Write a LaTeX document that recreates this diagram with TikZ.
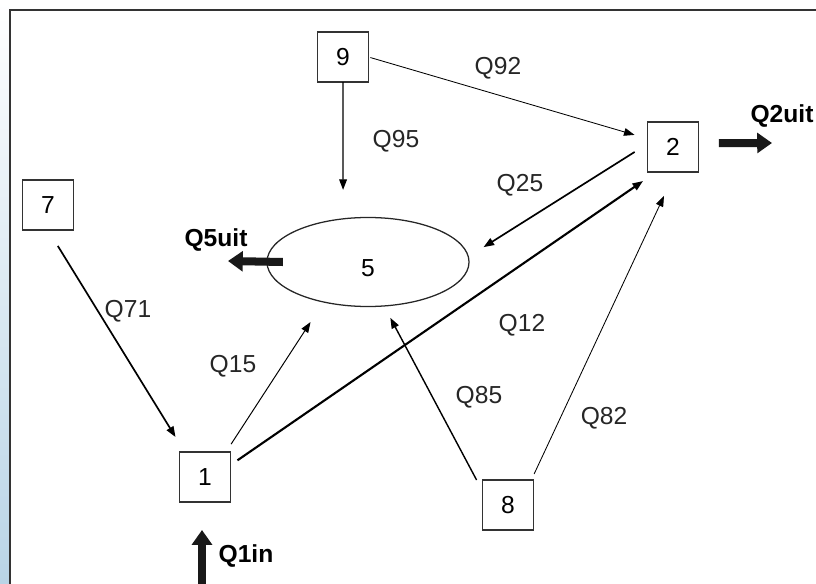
\documentclass[tikz,border=0pt]{standalone}
\usepackage{fontspec}
\setmainfont{Liberation Sans}
\usetikzlibrary{shapes.geometric,arrows.meta}
\definecolor{skyblue}{RGB}{185,212,230}

\begin{document}
\begin{tikzpicture}[x=0.025cm,y=-0.025cm,inner sep=0pt,outer sep=0pt,
font=\fontsize{17.5}{21}\selectfont,
tank/.style={draw=black!80,rectangle,line width=0.9pt,minimum width=1.275cm,minimum height=1.25cm},
pond/.style={draw=black!85,ellipse,line width=0.9pt,minimum width=5.05cm,minimum height=2.225cm},
flow/.style={-{Triangle[length=7.5pt,width=5.5pt]},black},
bigflow/.style={-{Triangle[length=10.5pt,width=14pt]},line width=5.7pt,black!90},
lbl/.style={anchor=center,text=black!85},
blbl/.style={anchor=center,font=\fontsize{17.5}{21}\selectfont\bfseries}]

\useasboundingbox (0,0) rectangle (816,584);

% left strip and frame
\shade[top color=white,bottom color=skyblue,middle color=skyblue!50] (0,0) rectangle (9,584);
\draw[line width=1.5pt,black!80] (10,584) -- (10,10) -- (816,10);

\draw (343,57) node[tank] (n9) {9};
\draw (673,147) node[tank] (n2) {2};
\draw (48,205) node[tank] (n7) {7};
\draw (205,477) node[tank] (n1) {1};
\draw (508,505) node[tank] (n8) {8};
\draw (368,262) node[pond] (n5) {};
\draw (368,268) node (n5lbl) {5};

\draw[flow,line width=0.6pt,shorten <=1.4pt,shorten >=9.6pt] (n9.east) -- (n2.162);
\draw[flow,line width=0.9pt,shorten >=20.6pt] (n9.south) -- (n5.120);
\draw[flow,line width=1.2pt,shorten <=10.8pt,shorten >=12.8pt] (n2.173) -- (n5.3);
\draw[flow,line width=1.5pt,shorten <=6pt,shorten >=11.3pt] (n1.25) -- (n2.236);
\draw[flow,line width=0.6pt,shorten <=4.7pt,shorten >=18.8pt] (n8.47) -- (n2.275);
\draw[flow,line width=1pt,shorten >=9.6pt] ([xshift=-4.2pt]n8.north west) -- (n5.290);
\draw[flow,line width=0.7pt,shorten <=6.7pt,shorten >=17pt] (n1.50) -- (n5.222);
\draw[flow,line width=1.2pt,shorten <=13.3pt,shorten >=12.5pt] (n7.south) -- (n1.129);

% outflows
\coordinate (q5out) at (228,261);
\coordinate (q2out) at (772,143);
\coordinate (q1src) at (202,590);
\coordinate (q1tip) at (202,530);
\draw[bigflow] ([xshift=11.3pt]n5.west) -- (q5out);
\draw[bigflow] ([xshift=14.5pt,yshift=2.8pt]n2.east) -- (q2out);
\draw[bigflow] (q1src) -- (q1tip);

\draw (498,68) node[lbl] (l92) {Q92};
\draw (396,141) node[lbl] (l95) {Q95};
\draw (520,185) node[lbl] (l25) {Q25};
\draw (522,325) node[lbl] (l12) {Q12};
\draw (604,418) node[lbl] (l82) {Q82};
\draw (479,397) node[lbl] (l85) {Q85};
\draw (233,366) node[lbl] (l15) {Q15};
\draw (128,311) node[lbl] (l71) {Q71};
\draw (216,240) node[blbl] (l5u) {Q5uit};
\draw (782,116) node[blbl] (l2u) {Q2uit};
\draw (246,556) node[blbl] (l1i) {Q1in};

\end{tikzpicture}
\end{document}
